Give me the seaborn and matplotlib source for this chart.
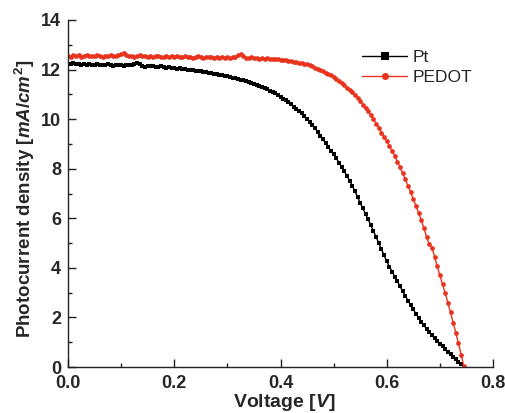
import numpy as np
import pandas as pd
import matplotlib
matplotlib.use("Agg")
import matplotlib.pyplot as plt
import seaborn as sns
from matplotlib.ticker import MultipleLocator

# ---- data ----
voltage = [round(0.005 * i, 3) for i in range(150)]  # 0.000 ... 0.745 V

pt_current = [
    12.24, 12.22, 12.25, 12.21, 12.23, 12.20, 12.22, 12.19, 12.21, 12.20,
    12.18, 12.21, 12.20, 12.17, 12.19, 12.21, 12.18, 12.16, 12.19, 12.17,
    12.18, 12.16, 12.19, 12.17, 12.20, 12.22, 12.25, 12.21, 12.15, 12.12,
    12.16, 12.13, 12.15, 12.12, 12.10, 12.13, 12.10, 12.08, 12.10, 12.06,
    12.07, 12.04, 12.05, 12.02, 12.01, 11.99, 11.99, 11.97, 11.96, 11.94,
    11.93, 11.91, 11.90, 11.88, 11.86, 11.84, 11.82, 11.80, 11.78, 11.75,
    11.73, 11.70, 11.68, 11.65, 11.62, 11.59, 11.56, 11.53, 11.49, 11.46,
    11.42, 11.38, 11.34, 11.30, 11.25, 11.20, 11.15, 11.10, 11.04, 10.98,
    10.90, 10.83, 10.76, 10.68, 10.60, 10.51, 10.42, 10.33, 10.23, 10.13,
    10.02, 9.90, 9.77, 9.63, 9.48, 9.33, 9.18, 9.03, 8.88, 8.73,
    8.58, 8.42, 8.25, 8.08, 7.90, 7.72, 7.52, 7.32, 7.10, 6.86,
    6.62, 6.40, 6.18, 5.96, 5.73, 5.49, 5.25, 5.00, 4.75, 4.50,
    4.26, 4.05, 3.85, 3.65, 3.45, 3.25, 3.06, 2.87, 2.68, 2.50,
    2.32, 2.15, 1.98, 1.83, 1.68, 1.54, 1.41, 1.28, 1.16, 1.05,
    0.94, 0.83, 0.72, 0.61, 0.51, 0.41, 0.31, 0.21, 0.11, 0.02,
]

pedot_current = [
    12.56, 12.52, 12.58, 12.54, 12.57, 12.52, 12.55, 12.59, 12.53, 12.56,
    12.54, 12.58, 12.55, 12.52, 12.56, 12.54, 12.57, 12.53, 12.55, 12.58,
    12.62, 12.65, 12.58, 12.54, 12.56, 12.52, 12.55, 12.57, 12.53, 12.55,
    12.51, 12.54, 12.50, 12.53, 12.55, 12.52, 12.49, 12.53, 12.50, 12.54,
    12.51, 12.56, 12.52, 12.49, 12.53, 12.50, 12.52, 12.48, 12.51, 12.54,
    12.50, 12.47, 12.51, 12.49, 12.52, 12.48, 12.50, 12.47, 12.51, 12.48,
    12.50, 12.46, 12.49, 12.52, 12.58, 12.63, 12.55, 12.48, 12.46, 12.49,
    12.45, 12.47, 12.44, 12.46, 12.43, 12.45, 12.42, 12.44, 12.41, 12.42,
    12.40, 12.38, 12.39, 12.35, 12.34, 12.32, 12.31, 12.28, 12.27, 12.24,
    12.22, 12.19, 12.16, 12.08, 12.02, 11.98, 11.93, 11.88, 11.83, 11.77,
    11.70, 11.62, 11.54, 11.45, 11.36, 11.27, 11.18, 11.09, 10.99, 10.86,
    10.73, 10.59, 10.45, 10.31, 10.16, 10.00, 9.82, 9.64, 9.46, 9.28,
    9.10, 8.91, 8.72, 8.51, 8.29, 8.06, 7.82, 7.57, 7.31, 7.05,
    6.78, 6.50, 6.21, 5.92, 5.60, 5.24, 4.95, 4.82, 4.45, 4.06,
    3.70, 3.34, 2.98, 2.60, 2.20, 1.79, 1.38, 0.95, 0.50, 0.04,
]

series_names = ["Pt", "PEDOT"]
x_ticks = [0.0, 0.2, 0.4, 0.6, 0.8]
y_ticks = [0, 2, 4, 6, 8, 10, 12, 14]

df = pd.DataFrame({
    "Voltage": voltage * 2,
    "Current": pt_current + pedot_current,
    "Sample": [series_names[0]] * len(voltage) + [series_names[1]] * len(voltage),
})

# ---- style ----
sns.set_style("ticks")
plt.rcParams["font.family"] = ["Liberation Sans", "DejaVu Sans"]
plt.rcParams["mathtext.fontset"] = "custom"
plt.rcParams["mathtext.rm"] = "Liberation Sans:bold"
plt.rcParams["mathtext.it"] = "Liberation Sans:italic:bold"
plt.rcParams["mathtext.bf"] = "Liberation Sans:bold"

fig = plt.figure(figsize=(5.05, 4.13), dpi=100)
ax = fig.add_axes([68 / 505, 46 / 413, 425 / 505, 347 / 413])

palette = {"Pt": "#000000", "PEDOT": "#e8331e"}
markers = {"Pt": "s", "PEDOT": "o"}
sns.lineplot(data=df, x="Voltage", y="Current", hue="Sample", style="Sample",
             hue_order=series_names, style_order=series_names,
             palette=palette, markers=markers, dashes=False,
             estimator=None, sort=True, linewidth=1.0,
             markersize=3.4, markeredgewidth=0, ax=ax)

ax.set_xlim(0, 0.8)
ax.set_ylim(0, 14)
ax.set_xticks(x_ticks)
ax.set_yticks(y_ticks)
ax.set_xticklabels([f"{t:.1f}" for t in x_ticks])
ax.set_yticklabels([str(t) for t in y_ticks])
ax.xaxis.set_minor_locator(MultipleLocator(0.1))
ax.yaxis.set_minor_locator(MultipleLocator(1))

for s in ["top", "right"]:
    ax.spines[s].set_visible(False)
for s in ["left", "bottom"]:
    ax.spines[s].set_color("#222222")
    ax.spines[s].set_linewidth(1.0)

ax.tick_params(which="major", direction="in", length=6, width=1.0,
               color="#222222", labelsize=13)
ax.tick_params(axis="y", which="major", pad=5)
ax.tick_params(axis="x", which="major", pad=6)
ax.tick_params(which="minor", direction="in", length=3, width=1.0,
               color="#222222")
for lab in ax.get_xticklabels() + ax.get_yticklabels():
    lab.set_fontweight("bold")

ax.set_xlabel(r"Voltage $\mathit{[V]}$", fontsize=14, fontweight="bold")
ax.set_ylabel(r"Photocurrent density $\mathit{[mA/cm^2]}$", fontsize=13.5,
              fontweight="bold")
ax.xaxis.set_label_coords(0.51, -0.073)
ax.yaxis.set_label_coords(-0.073, 0.485)

leg = ax.legend(loc="upper left", bbox_to_anchor=(0.692, 0.914), frameon=False,
                fontsize=12.5, handlelength=2.6, handletextpad=0.3,
                labelspacing=0.3, borderpad=0, borderaxespad=0,
                markerscale=1.5, title=None)

fig.savefig("out.png", dpi=100, facecolor="white")
